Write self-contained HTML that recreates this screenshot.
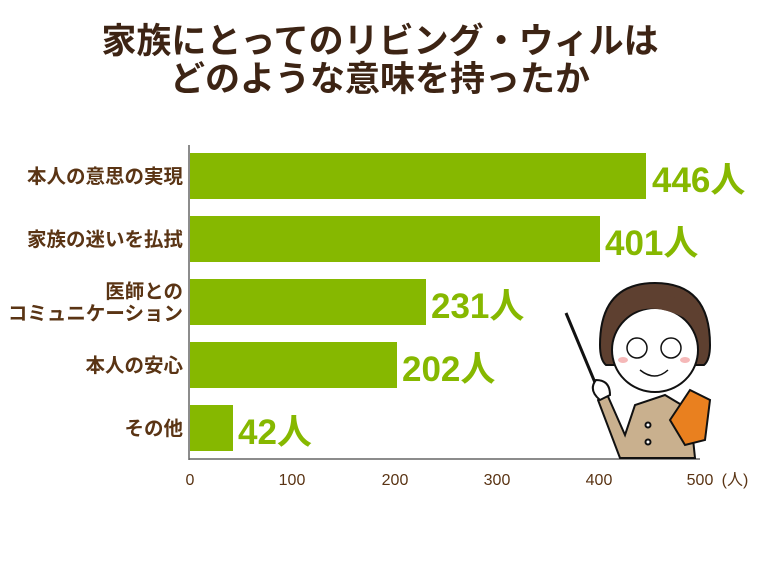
<!DOCTYPE html>
<html><head><meta charset="utf-8"><style>
body{margin:0;background:#fff;}
svg text{font-family:"Liberation Sans","Noto Sans CJK JP",sans-serif;}
</style></head><body>
<svg width="760" height="560" xmlns="http://www.w3.org/2000/svg">
<rect width="760" height="560" fill="#fff"/>
<text x="380" y="53" text-anchor="middle" font-size="35" font-weight="bold" fill="#3d2414">家族にとってのリビング・ウィルは</text>
<text x="380" y="91" text-anchor="middle" font-size="35" font-weight="bold" fill="#3d2414">どのような意味を持ったか</text>
<g fill="#86b800">
<rect x="190" y="153" width="456" height="46"/>
<rect x="190" y="216" width="410" height="46"/>
<rect x="190" y="279" width="236" height="46"/>
<rect x="190" y="342" width="207" height="46"/>
<rect x="190" y="405" width="43" height="46"/>
</g>
<g fill="#86b800" font-size="35" font-weight="bold">
<text x="652" y="192">446人</text>
<text x="605" y="255">401人</text>
<text x="431" y="318">231人</text>
<text x="402" y="381">202人</text>
<text x="238" y="444">42人</text>
</g>
<g fill="#5a3414" font-size="19.5" font-weight="bold" text-anchor="end">
<text x="183" y="183">本人の意思の実現</text>
<text x="183" y="246">家族の迷いを払拭</text>
<text x="183" y="298">医師との</text>
<text x="183" y="320">コミュニケーション</text>
<text x="183" y="372">本人の安心</text>
<text x="183" y="435">その他</text>
</g>
<line x1="189" y1="145" x2="189" y2="460" stroke="#666" stroke-width="1.5"/>
<line x1="189" y1="459" x2="700" y2="459" stroke="#666" stroke-width="1.5"/>
<g fill="#5a3414" font-size="16" text-anchor="middle">
<text x="190" y="485">0</text><text x="292" y="485">100</text><text x="395" y="485">200</text>
<text x="497" y="485">300</text><text x="599" y="485">400</text><text x="700" y="485">500</text>
<text x="735" y="485">(人)</text>
</g>
<g stroke="#111" stroke-width="2">
<line x1="566" y1="313" x2="596" y2="385" stroke-width="3"/>
<path d="M620 458 L598 400 L606 392 L625 435 L635 405 L665 395 L690 410 L695 458Z" fill="#c9b08e"/>
<path d="M596 380 q-8 10 4 20 l10 -5 q0 -15 -14 -15z" fill="#fff"/>
<path d="M670 420 l20 -30 l20 10 l-5 40 l-20 5z" fill="#e9801f"/>
<path d="M600 345 q0 -62 55 -62 q55 0 55 62 q0 15 -6 20 l-98 0 q-6 -5 -6 -20z" fill="#5e4030"/>
<ellipse cx="655" cy="350" rx="43" ry="42" fill="#fff"/>
<path d="M612 330 q30 -40 85 -5 l2 -15 q-40 -30 -85 0z" fill="#5e4030" stroke="none"/>
<circle cx="637" cy="348" r="10" fill="none" stroke-width="1.5"/>
<circle cx="671" cy="348" r="10" fill="none" stroke-width="1.5"/>
<path d="M640 370 q15 12 28 0" fill="none" stroke-width="1.5"/>
<circle cx="648" cy="425" r="2.5" fill="#fff"/><circle cx="648" cy="442" r="2.5" fill="#fff"/>
</g>
<ellipse cx="623" cy="360" rx="5" ry="3" fill="#f5b8b8"/><ellipse cx="685" cy="360" rx="5" ry="3" fill="#f5b8b8"/>
</svg>
</body></html>
